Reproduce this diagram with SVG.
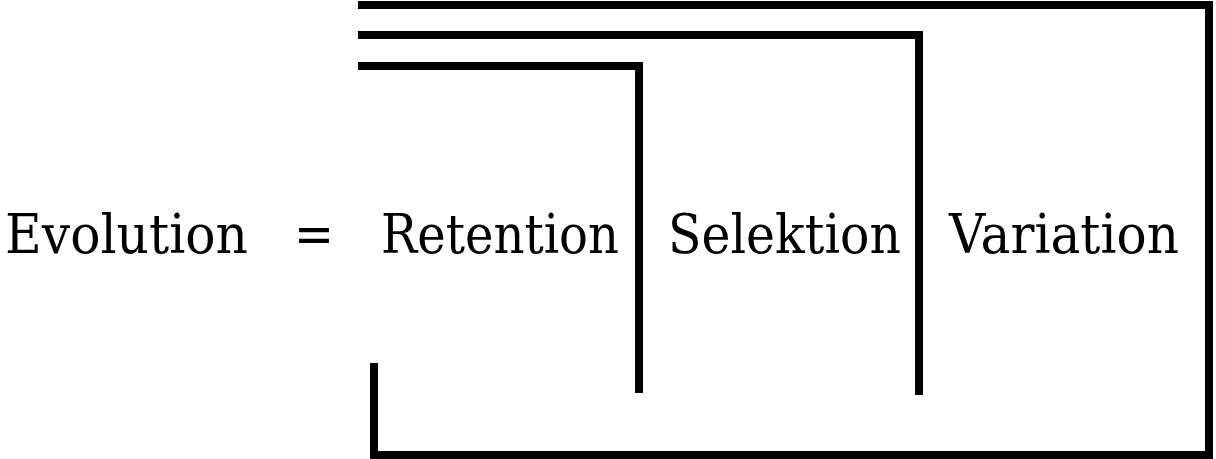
<svg xmlns="http://www.w3.org/2000/svg" width="1216" height="459" viewBox="0 0 1216 459">
<style>
.l{fill:none;stroke:#000;stroke-width:8;stroke-linejoin:miter;stroke-linecap:butt}
</style>
<rect width="1216" height="459" fill="#fff"/>
<g id="connectors">
<polyline class="l" points="358,5 1209,5 1209,455 374,455 374,363"/>
<polyline class="l" points="358,35 919,35 919,395"/>
<polyline class="l" points="358,66 639,66 639,393"/>
</g>
<g font-family="'DejaVu Serif', 'Liberation Serif', serif" font-size="55" fill="#000">
<g id="evolution"><text x="5" y="253" textLength="243" lengthAdjust="spacingAndGlyphs">Evolution</text></g>
<g id="equals"><text x="294" y="253" textLength="40" lengthAdjust="spacingAndGlyphs">=</text></g>
<g id="retention"><text x="381" y="253" textLength="238" lengthAdjust="spacingAndGlyphs">Retention</text></g>
<g id="selektion"><text x="668" y="253" textLength="233" lengthAdjust="spacingAndGlyphs">Selektion</text></g>
<g id="variation"><text x="949" y="253" textLength="230" lengthAdjust="spacingAndGlyphs">Variation</text></g>
</g>
</svg>
